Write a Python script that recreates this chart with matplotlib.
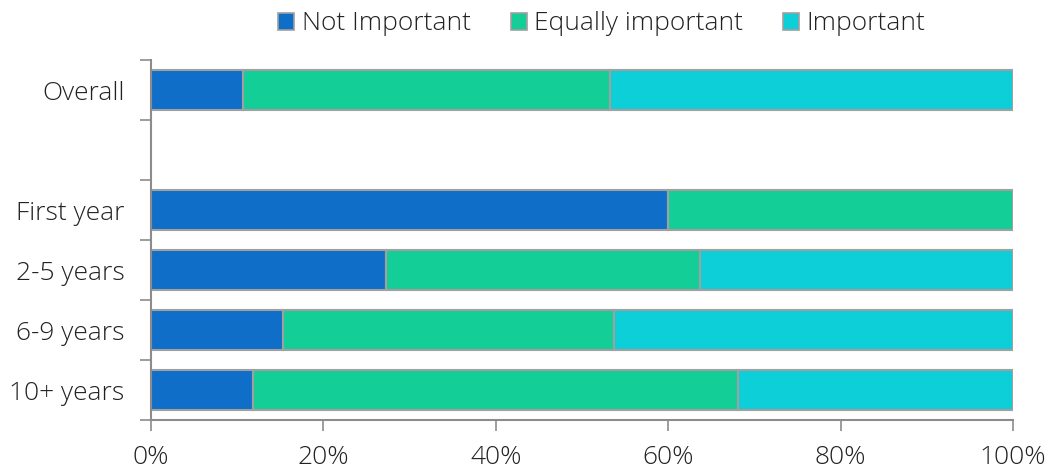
import numpy as np
import matplotlib
matplotlib.use("Agg")
import matplotlib.pyplot as plt
from matplotlib.patches import Patch

plt.rcParams['font.family'] = ['Open Sans', 'DejaVu Sans']

# categories from top to bottom ("" = empty slot)
categories = ["Overall", "", "First year", "2-5 years", "6-9 years", "10+ years"]
not_important = [10.7, 0, 60.0, 27.3, 15.3, 11.8]
equally_important = [42.5, 0, 40.0, 36.4, 38.4, 56.3]
important = [46.8, 0, 0.0, 36.3, 46.3, 31.9]

series_names = ["Not Important", "Equally important", "Important"]
colors = ["#0f6ec7", "#13cf97", "#0ccfd8"]
edge = "#a0a0a0"
axis_col = "#8c8c8c"
txt_col = "#222222"
fs = 19

fig = plt.figure(figsize=(10.5, 4.72), dpi=100)
ax = fig.add_axes([151 / 1050, 1 - 420 / 472, 862 / 1050, 360 / 472])

y = np.arange(len(categories))
left = np.zeros(len(categories))
for vals, name, col in zip([not_important, equally_important, important], series_names, colors):
    vals = np.array(vals)
    mask = vals > 0
    ax.barh(y[mask], vals[mask], left=left[mask], height=0.66, color=col,
            edgecolor=edge, linewidth=1.5, label=name)
    left += vals

ax.set_xlim(0, 100)
ax.set_ylim(len(categories) - 0.5, -0.5)

ax.set_xticks(np.arange(0, 101, 20))
ax.set_xticklabels([f"{v}%" for v in range(0, 101, 20)], fontsize=fs, fontweight='light', color=txt_col)
ax.set_yticks(np.arange(-0.5, len(categories), 1.0))
ax.set_yticklabels([])
ax.set_yticks(y, minor=True)
ax.set_yticklabels(categories, minor=True, fontsize=fs, fontweight='light', color=txt_col)
ax.tick_params(axis='y', which='minor', length=0, pad=19)
ax.tick_params(axis='y', which='major', length=8, width=1.2, color=axis_col)
ax.tick_params(axis='x', length=8, width=1.2, color=axis_col, pad=10)

for s in ['top', 'right']:
    ax.spines[s].set_visible(False)
for s in ['left', 'bottom']:
    ax.spines[s].set_color(axis_col)
    ax.spines[s].set_linewidth(1.5)

handles = [Patch(facecolor=c, edgecolor=edge, linewidth=1.2) for c in colors]
fig.legend(handles, series_names, loc='center', bbox_to_anchor=(602 / 1050, 1 - 24 / 472),
           ncol=3, frameon=False, prop={'size': fs, 'weight': 'light'},
           handlelength=0.6, handleheight=0.6, handletextpad=0.3, columnspacing=1.5,
           labelcolor=txt_col)

fig.savefig("out.png", dpi=100)
